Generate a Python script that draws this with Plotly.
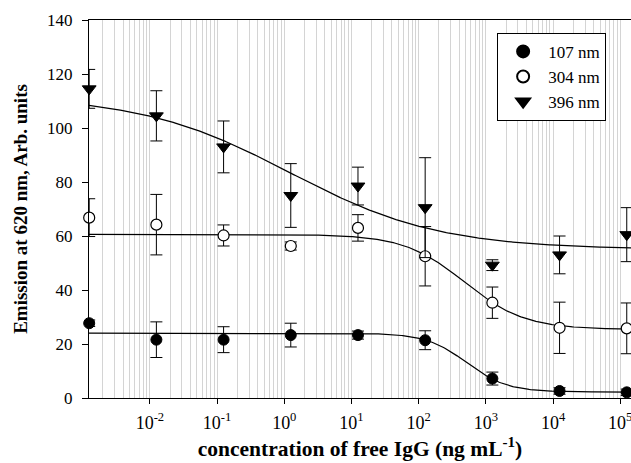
import numpy as np
import plotly.graph_objects as go

# ---- data ----
conc = [0.00125, 0.0125, 0.125, 1.25, 12.5, 125, 1250, 12500, 125000]

y_107 = [27.7, 21.6, 21.6, 23.3, 23.3, 21.4, 7.2, 2.6, 2.1]
e_107 = [1.2, 6.6, 4.8, 4.4, 1.5, 3.5, 2.4, 1.2, 1.2]

y_304 = [66.8, 64.2, 60.2, 56.3, 63.0, 52.5, 35.3, 26.0, 25.8]
e_304 = [7.0, 11.2, 3.9, 1.5, 4.9, 11.0, 5.8, 9.5, 9.4]

y_396 = [114.5, 104.5, 93.0, 75.0, 78.5, 70.5, 49.2, 53.0, 60.5]
e_396 = [7.2, 9.3, 9.6, 11.8, 7.0, 18.5, 2.0, 7.0, 10.0]

# four-parameter logistic fit parameters: top, bottom, log10(EC50), hill slope
fit_107 = [24.0, 2.2, 2.714, 1.435]
fit_304 = [60.6, 25.4, 2.676, 0.968]
fit_396 = [112.0, 55.0, 0.08, 0.39]

x_tick_vals = [1e-2, 1e-1, 1e0, 1e1, 1e2, 1e3, 1e4, 1e5]
x_tick_text = ["10<sup>-2</sup>", "10<sup>-1</sup>", "10<sup>0</sup>", "10<sup>1</sup>",
               "10<sup>2</sup>", "10<sup>3</sup>", "10<sup>4</sup>", "10<sup>5</sup>"]
y_tick_vals = [0, 20, 40, 60, 80, 100, 120, 140]

x_range_log = [-2.906, 5.16]

FONT = "Liberation Serif, Times New Roman, serif"


def logistic(logx, p):
    top, bottom, lec, h = p
    return bottom + (top - bottom) / (1.0 + 10 ** (h * (logx - lec)))


lx = np.linspace(x_range_log[0], x_range_log[1], 400)
xc = 10 ** lx

fig = go.Figure()

for p in (fit_107, fit_304, fit_396):
    fig.add_trace(go.Scatter(x=xc, y=logistic(lx, p), mode="lines",
                             line=dict(color="black", width=1.2),
                             showlegend=False, hoverinfo="skip"))

err_style = dict(type="data", visible=True, color="black", thickness=1, width=6)

fig.add_trace(go.Scatter(x=conc, y=y_107, mode="markers", name="107 nm",
                         error_y=dict(array=e_107, **err_style),
                         marker=dict(symbol="circle", size=11, color="black",
                                     line=dict(color="black", width=1)),
                         cliponaxis=False))
fig.add_trace(go.Scatter(x=conc, y=y_304, mode="markers", name="304 nm",
                         error_y=dict(array=e_304, **err_style),
                         marker=dict(symbol="circle", size=11, color="white",
                                     line=dict(color="black", width=1.2)),
                         cliponaxis=False))
fig.add_trace(go.Scatter(x=conc, y=y_396, mode="markers", name="396 nm",
                         error_y=dict(array=e_396, **err_style),
                         marker=dict(symbol="triangle-down", size=12, color="black",
                                     line=dict(color="black", width=1)),
                         cliponaxis=False))

fig.update_layout(
    width=631, height=463,
    margin=dict(l=89, r=0, t=20, b=65),
    paper_bgcolor="white", plot_bgcolor="white",
    font=dict(family=FONT, color="black", size=16),
    showlegend=True,
    legend=dict(x=0.753, y=0.966, xanchor="left", yanchor="top",
                bgcolor="white", bordercolor="black", borderwidth=1,
                font=dict(family=FONT, size=17, color="black"),
                tracegroupgap=0, itemwidth=40,
                itemsizing="constant"),
)

fig.update_xaxes(
    type="log", range=x_range_log,
    tickmode="array", tickvals=x_tick_vals, ticktext=x_tick_text,
    ticks="outside", ticklen=5, tickcolor="black", tickwidth=1,
    tickfont=dict(family=FONT, size=18, color="black"),
    ticklabeloverflow="allow", ticklabelstandoff=3,
    showline=True, linecolor="black", linewidth=1, mirror=True,
    showgrid=True, gridcolor="#d4d4d4", gridwidth=1,
    minor=dict(dtick="D1", showgrid=True, gridcolor="#d4d4d4", gridwidth=1, ticks=""),
    zeroline=False,
    title=dict(text="<b>concentration of free IgG (ng mL<sup>-1</sup>)</b>",
               font=dict(family=FONT, size=21.5, color="black"), standoff=9),
)
fig.update_yaxes(
    range=[0, 140], tickmode="array", tickvals=y_tick_vals,
    ticks="outside", ticklen=6, tickcolor="black", tickwidth=1,
    tickfont=dict(family=FONT, size=17, color="black"),
    ticklabelstandoff=6,
    showline=True, linecolor="black", linewidth=1,
    showgrid=False, zeroline=False,
    title=dict(text="<b>Emission at 620 nm, Arb. units</b>",
               font=dict(family=FONT, size=19, color="black"), standoff=14),
)

fig.write_html("out.html")
